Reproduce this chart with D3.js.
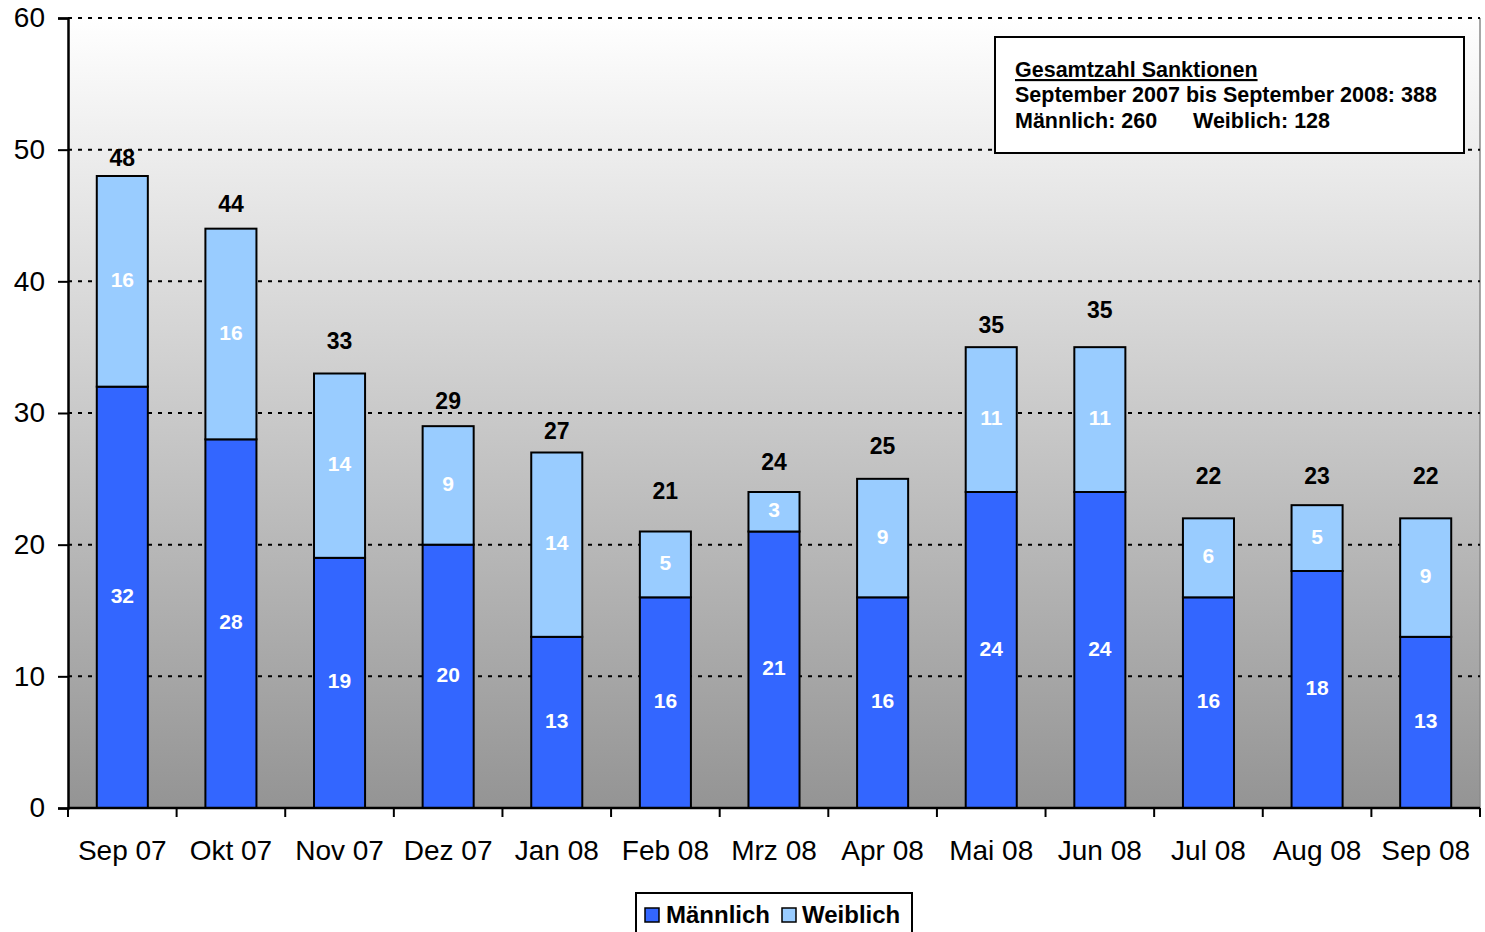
<!DOCTYPE html>
<html>
<head>
<meta charset="utf-8">
<script src="https://cdn.jsdelivr.net/npm/d3@7"></script>
<style>
  html, body { margin: 0; padding: 0; background: #ffffff; }
  svg { display: block; font-family: "Liberation Sans", Arial, sans-serif; }
</style>
</head>
<body>
<svg id="chart" width="1485" height="932"></svg>
<script>
// ---- data ----
const categories = ["Sep 07","Okt 07","Nov 07","Dez 07","Jan 08","Feb 08","Mrz 08","Apr 08","Mai 08","Jun 08","Jul 08","Aug 08","Sep 08"];
const maennlich = [32,28,19,20,13,16,21,16,24,24,16,18,13];
const weiblich  = [16,16,14,9,14,5,3,9,11,11,6,5,9];
// hidden total-series label heights (data units), as placed in the original
const totalLabelAt = [49.4,45.9,35.5,30.9,28.6,24.1,26.3,27.5,36.7,37.8,25.2,25.2,25.2];
const yTicks = [0,10,20,30,40,50,60];
const seriesNames = ["Männlich","Weiblich"];
const infoLines = ["Gesamtzahl Sanktionen","September 2007 bis September 2008: 388","Männlich: 260","Weiblich: 128"];

const colors = {m: "#3366FF", w: "#99CCFF"};

const svg = d3.select("#chart");
const pLeft = 68, pRight = 1480, pTop = 18, pBottom = 808;

const x = d3.scaleBand().domain(categories).range([pLeft, pRight]).paddingInner(0.53).paddingOuter(0.265);
const y = d3.scaleLinear().domain([0, 60]).range([pBottom, pTop]);

// background gradient
const defs = svg.append("defs");
const grad = defs.append("linearGradient").attr("id","bg").attr("x1",0).attr("y1",0).attr("x2",0).attr("y2",1);
grad.append("stop").attr("offset","0%").attr("stop-color","#ffffff");
grad.append("stop").attr("offset","100%").attr("stop-color","#949494");
svg.append("rect").attr("x", pLeft).attr("y", pTop).attr("width", pRight - pLeft).attr("height", pBottom - pTop)
  .attr("fill","url(#bg)");
// right border of plot area
svg.append("line").attr("x1", pRight).attr("x2", pRight).attr("y1", pTop).attr("y2", pBottom)
  .attr("stroke","#8a8a8a").attr("stroke-width",1.5);

// gridlines
svg.append("g").selectAll("line").data(yTicks.filter(d => d > 0)).join("line")
  .attr("x1", pLeft).attr("x2", pRight)
  .attr("y1", d => y(d)).attr("y2", d => y(d))
  .attr("stroke","#000").attr("stroke-width",2).attr("stroke-dasharray","4,6");

// stacked bars
const stackData = categories.map((c,i) => ({cat: c, m: maennlich[i], w: weiblich[i]}));
const stack = d3.stack().keys(["m","w"])(stackData);
const gBars = svg.append("g");
stack.forEach(layer => {
  gBars.append("g").selectAll("rect").data(layer).join("rect")
    .attr("x", d => x(d.data.cat))
    .attr("width", x.bandwidth())
    .attr("y", d => y(d[1]))
    .attr("height", d => y(d[0]) - y(d[1]))
    .attr("fill", colors[layer.key])
    .attr("stroke","#000").attr("stroke-width",2);
});

// segment labels
stack.forEach(layer => {
  gBars.append("g").selectAll("text").data(layer).join("text")
    .attr("x", d => x(d.data.cat) + x.bandwidth()/2)
    .attr("y", d => y((d[0] + d[1]) / 2) - 2)
    .attr("text-anchor","middle").attr("dominant-baseline","central")
    .attr("fill","#fff").attr("font-weight","bold").attr("font-size","21px")
    .text(d => d[1] - d[0]);
});

// total labels
svg.append("g").selectAll("text").data(categories).join("text")
  .attr("x", c => x(c) + x.bandwidth()/2)
  .attr("y", (c,i) => y(totalLabelAt[i]))
  .attr("text-anchor","middle").attr("dominant-baseline","central")
  .attr("fill","#000").attr("font-weight","bold").attr("font-size","23px")
  .text((c,i) => maennlich[i] + weiblich[i]);

// y axis
const yAxis = d3.axisLeft(y).tickValues(yTicks).tickSize(10).tickPadding(13);
const gy = svg.append("g").attr("transform", `translate(${pLeft},0)`).call(yAxis);
gy.select(".domain").attr("stroke","#000").attr("stroke-width",2.5);
gy.selectAll(".tick line").attr("stroke","#000").attr("stroke-width",2);
gy.selectAll(".tick text").attr("font-size","28px").attr("fill","#000")
  .attr("font-family",'"Liberation Sans", Arial, sans-serif');

// x axis with ticks at band boundaries
const gx = svg.append("g");
gx.append("line").attr("x1", pLeft).attr("x2", pRight).attr("y1", pBottom).attr("y2", pBottom)
  .attr("stroke","#000").attr("stroke-width",2.5);
const boundaries = categories.map(c => x(c) - x.step()*x.paddingInner()/2).concat([pRight]);
gx.selectAll("line.t").data(boundaries).join("line").attr("class","t")
  .attr("x1", d => d).attr("x2", d => d).attr("y1", pBottom).attr("y2", pBottom + 9)
  .attr("stroke","#000").attr("stroke-width",2);
gx.selectAll("text").data(categories).join("text")
  .attr("x", c => x(c) + x.bandwidth()/2)
  .attr("y", 860)
  .attr("text-anchor","middle").attr("font-size","28px").attr("fill","#000")
  .text(c => c);

// info box
const info = svg.append("g");
info.append("rect").attr("x",995).attr("y",37).attr("width",469).attr("height",116)
  .attr("fill","#fff").attr("stroke","#000").attr("stroke-width",2);
info.append("text").attr("x",1015).attr("y",77).attr("font-size","21.5px").attr("font-weight","bold")
  .attr("text-decoration","underline").text(infoLines[0]);
info.append("text").attr("x",1015).attr("y",102).attr("font-size","21.5px").attr("font-weight","bold")
  .text(infoLines[1]);
info.append("text").attr("x",1015).attr("y",128).attr("font-size","21.5px").attr("font-weight","bold")
  .text(infoLines[2]);
info.append("text").attr("x",1193).attr("y",128).attr("font-size","21.5px").attr("font-weight","bold")
  .text(infoLines[3]);

// legend
const leg = svg.append("g");
leg.append("rect").attr("x",636).attr("y",893).attr("width",276).attr("height",45)
  .attr("fill","#fff").attr("stroke","#000").attr("stroke-width",2);
const legItems = [{name: seriesNames[0], color: colors.m, sx: 645, tx: 666},
                  {name: seriesNames[1], color: colors.w, sx: 782, tx: 802}];
legItems.forEach(it => {
  leg.append("rect").attr("x", it.sx).attr("y", 908).attr("width", 14).attr("height", 14)
    .attr("fill", it.color).attr("stroke","#000").attr("stroke-width",1.5);
  leg.append("text").attr("x", it.tx).attr("y", 923).attr("font-size","24px").attr("font-weight","bold")
    .attr("fill","#000").text(it.name);
});
</script>
</body>
</html>
